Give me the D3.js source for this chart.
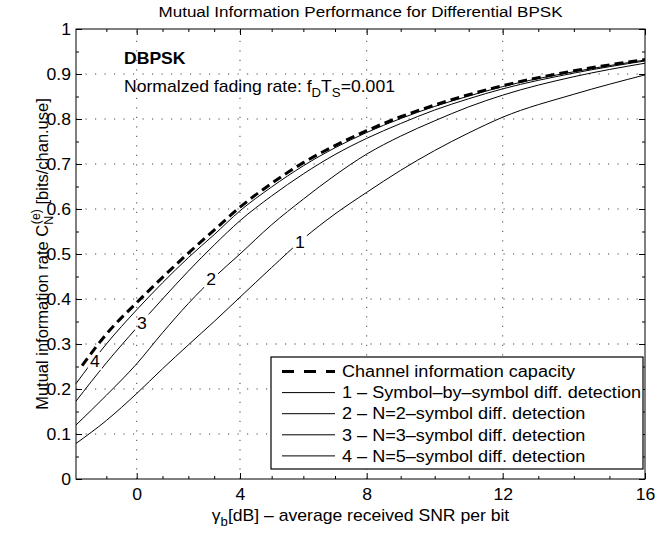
<!DOCTYPE html>
<html>
<head>
<meta charset="utf-8">
<script src="https://cdn.jsdelivr.net/npm/d3@7"></script>
<style>
body{margin:0;background:#fff}
text{font-family:"Liberation Sans",Arial,Helvetica,sans-serif;fill:#000}
</style>
</head>
<body>
<div id="chart"></div>
<script>
// values (SNR in dB, rate in bits/chan.use)
var snr = [-2,-1,0,1,2,3,4,5,6,7,8,9,10,11,12,14,16];
var capSnr = [-1.8,-1,0,1,2,3,4,5,6,7,8,9,10,11,12,14,16];
var capacity = [0.252,0.322,0.392,0.448,0.502,0.553,0.604,0.657,0.703,0.741,0.774,0.805,0.831,0.854,0.874,0.907,0.932];
var curve1 = [0.079,0.13,0.19,0.245,0.298,0.35,0.404,0.47,0.534,0.589,0.637,0.686,0.73,0.769,0.804,0.855,0.898];
var curve2 = [0.12,0.186,0.256,0.325,0.39,0.448,0.50,0.565,0.622,0.675,0.722,0.762,0.796,0.827,0.853,0.894,0.924];
var curve3 = [0.173,0.258,0.336,0.40,0.462,0.52,0.574,0.629,0.678,0.721,0.757,0.79,0.82,0.845,0.867,0.902,0.929];
var curve4 = [0.212,0.30,0.376,0.436,0.492,0.543,0.596,0.649,0.696,0.736,0.77,0.801,0.828,0.851,0.872,0.905,0.931];
var curveNames = ["1","2","3","4"];
var labelSnr = [5.89,2.88,0.2,-1.38];
var labelRate = [0.527,0.445,0.346,0.262];
var legendNames = ["Channel information capacity",
  "1 \u2013 Symbol\u2013by\u2013symbol diff. detection",
  "2 \u2013 N=2\u2013symbol diff. detection",
  "3 \u2013 N=3\u2013symbol diff. detection",
  "4 \u2013 N=5\u2013symbol diff. detection"];
var xMajor = [0,4,8,12,16];
var yMajor = [0,0.1,0.2,0.3,0.4,0.5,0.6,0.7,0.8,0.9,1];

var W = 655, H = 535;
var mL = 76, mR = 645, mT = 29, mB = 479;
var pw = mR-mL;
var sx = 1.1; // the printed lettering is a bit wider than Arial

var svg = d3.select("#chart").append("svg")
    .attr("width",W).attr("height",H);

// the printed x axis is not evenly spaced, so the scale has break points
var x = d3.scaleLinear()
    .domain([-2,0,4,8,12,16])
    .range([mL, mL+pw*0.1067, mL+pw*0.2882, mL+pw*0.5109, mL+pw*0.7499, mR]);
var y = d3.scaleLinear().domain([0,1]).range([mB,mT]);

function txt(px,py,size,k){
  return svg.append("text").attr("transform","translate("+px+","+py+") scale("+(k||sx)+",1)").attr("font-size",size);
}

// grid
var grid = svg.append("g").attr("stroke","#444").attr("stroke-width",1).attr("stroke-dasharray","1.2,8.3");
grid.selectAll("line.gx").data([0,4,8,12]).enter().append("line")
    .attr("x1",function(d){return x(d);}).attr("x2",function(d){return x(d);})
    .attr("y1",mB).attr("y2",mT);
grid.selectAll("line.gy").data(yMajor.slice(1,10)).enter().append("line")
    .attr("y1",function(d){return y(d);}).attr("y2",function(d){return y(d);})
    .attr("x1",mL).attr("x2",mR);

// axes with inward ticks
var xMinor = d3.range(-1,16,1).filter(function(d){return xMajor.indexOf(d)<0;});
var yMinor = d3.range(0.05,1,0.1);
function axisStyle(g){g.select(".domain").remove();g.selectAll("line").attr("stroke","#000");g.selectAll("text").attr("font-size",16);}

svg.append("g").attr("transform","translate(0,"+mB+")")
    .call(d3.axisBottom(x).tickValues(xMajor).tickSize(-6).tickPadding(10).tickFormat(d3.format("d")))
    .call(axisStyle);
svg.append("g").attr("transform","translate(0,"+mB+")")
    .call(d3.axisBottom(x).tickValues(xMinor).tickSize(-3).tickFormat(""))
    .call(axisStyle);
svg.append("g").attr("transform","translate(0,"+mT+")")
    .call(d3.axisTop(x).tickValues(xMajor).tickSize(-6).tickFormat(""))
    .call(axisStyle);
svg.append("g").attr("transform","translate(0,"+mT+")")
    .call(d3.axisTop(x).tickValues(xMinor).tickSize(-3).tickFormat(""))
    .call(axisStyle);
svg.append("g").attr("transform","translate("+mL+",0)")
    .call(d3.axisLeft(y).tickValues(yMajor).tickSize(-6).tickPadding(5).tickFormat(function(d){return d===0||d===1?d3.format("d")(d):d3.format(".1f")(d);}))
    .call(axisStyle);
svg.append("g").attr("transform","translate("+mL+",0)")
    .call(d3.axisLeft(y).tickValues(yMinor).tickSize(-3).tickFormat(""))
    .call(axisStyle);
svg.append("g").attr("transform","translate("+mR+",0)")
    .call(d3.axisRight(y).tickValues(yMajor).tickSize(-6).tickFormat(""))
    .call(axisStyle);
svg.append("g").attr("transform","translate("+mR+",0)")
    .call(d3.axisRight(y).tickValues(yMinor).tickSize(-3).tickFormat(""))
    .call(axisStyle);
svg.selectAll(".tick text").each(function(){
  var t = d3.select(this);
  var anchor = d3.select(this.parentNode.parentNode).attr("text-anchor");
  var ox = anchor==="end" ? -(+t.attr("x")||0)*(sx-1) : 0;
  t.attr("transform","translate("+ox+",0) scale("+sx+",1)");
});

// gaps in the curves where the numbers sit
var defs = svg.append("defs");
var mask = defs.append("mask").attr("id","gapMask");
mask.append("rect").attr("x",0).attr("y",0).attr("width",W).attr("height",H).attr("fill","#fff");
mask.selectAll("rect.gap").data(curveNames).enter().append("rect")
    .attr("x",function(d,i){return x(labelSnr[i])-7;})
    .attr("y",function(d,i){return y(labelRate[i])-9;})
    .attr("width",14).attr("height",18).attr("fill","#000");

var line = d3.line().curve(d3.curveMonotoneX);
var curves = [curve1,curve2,curve3,curve4];
svg.append("g").attr("mask","url(#gapMask)")
  .selectAll("path").data(curves).enter().append("path")
    .attr("fill","none").attr("stroke","#000").attr("stroke-width",1)
    .attr("d",function(c){return line(c.map(function(v,i){return [x(snr[i]),y(v)];}));});

svg.append("path")
    .attr("fill","none").attr("stroke","#000").attr("stroke-width",3).attr("stroke-dasharray","9,5")
    .attr("d",line(capacity.map(function(v,i){return [x(capSnr[i]),y(v)];})));

curveNames.forEach(function(d,i){
  txt(x(labelSnr[i]),y(labelRate[i]),16).attr("text-anchor","middle").attr("dy","0.36em").text(d);
});

// frame
svg.append("rect").attr("x",mL).attr("y",mT).attr("width",pw).attr("height",mB-mT)
    .attr("fill","none").attr("stroke","#000").attr("stroke-width",1);

// legend
var lg = svg.append("g");
lg.append("rect").attr("x",271).attr("y",357).attr("width",372).attr("height",112)
    .attr("fill","#fff").attr("stroke","#000").attr("stroke-width",1.2);
lg.selectAll("line").data(legendNames).enter().append("line")
    .attr("x1",282).attr("x2",335)
    .attr("y1",function(d,i){return 371.5+i*21.1;}).attr("y2",function(d,i){return 371.5+i*21.1;})
    .attr("stroke","#000")
    .attr("stroke-width",function(d,i){return i===0?3:1;})
    .attr("stroke-dasharray",function(d,i){return i===0?"12,10":null;});
legendNames.forEach(function(d,i){
  txt(342,371.5+i*21.1,16,1.13).attr("dy","0.36em").text(d);
});

// title and labels
txt((mL+mR)/2,17,15.5).attr("text-anchor","middle").text("Mutual Information Performance for Differential BPSK");

txt(124,64,16).attr("font-weight","bold").text("DBPSK");
var nt = txt(124,92,16);
nt.append("tspan").text("Normalzed fading rate: f");
nt.append("tspan").attr("font-size",12).attr("dy",5).text("D");
nt.append("tspan").attr("dy",-5).text("T");
nt.append("tspan").attr("font-size",12).attr("dy",5).text("S");
nt.append("tspan").attr("dy",-5).text("=0.001");

var xl = txt((mL+mR)/2,521,16).attr("text-anchor","middle");
xl.append("tspan").text("\u03b3");
xl.append("tspan").attr("font-size",12).attr("dy",5).text("b");
xl.append("tspan").attr("dy",-5).text("[dB] \u2013 average received SNR per bit");

var yl = svg.append("text").attr("transform","translate(48,"+((mT+mB)/2)+") rotate(-90) scale(1.03,1)")
    .attr("text-anchor","middle").attr("font-size",16);
yl.append("tspan").text("Mutual information rate C");
yl.append("tspan").attr("font-size",12).attr("dy",5).text("N");
yl.append("tspan").attr("font-size",12).attr("dx",-8).attr("dy",-13).text("(e)");
yl.append("tspan").attr("dy",8).text(" [bits/chan.use]");
</script>
</body>
</html>
